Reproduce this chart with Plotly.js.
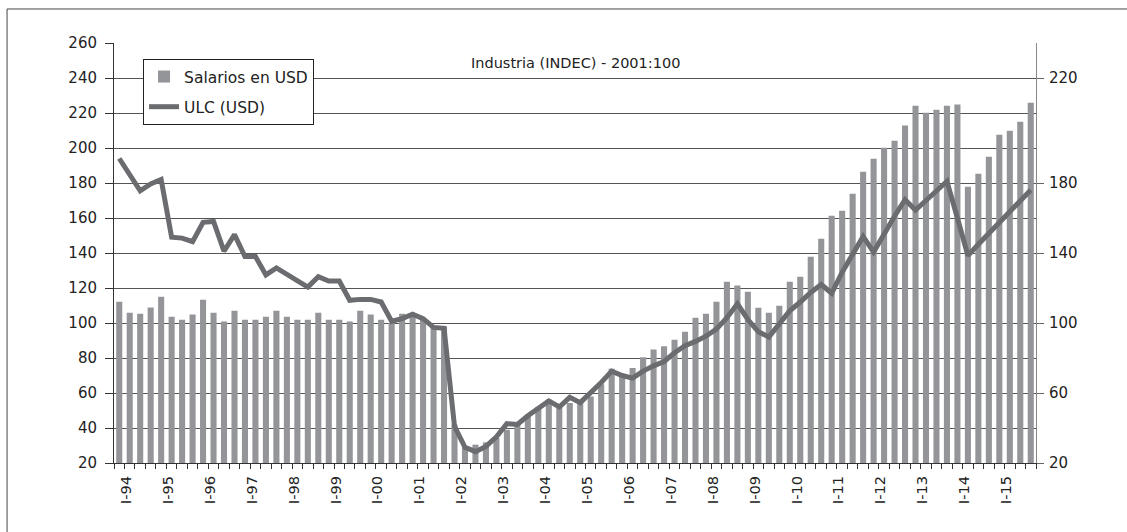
<!DOCTYPE html>
<html>
<head>
<meta charset="utf-8">
<script src="https://cdn.plot.ly/plotly-3.0.1.min.js"></script>
<style>
  html, body { margin: 0; padding: 0; background: #ffffff; }
  #chart { width: 1127px; height: 532px; }
</style>
</head>
<body>
<div id="chart"></div>
<script>
// ---- Data ----
const years = ['94','95','96','97','98','99','00','01','02','03','04','05','06','07','08','09','10','11','12','13','14','15'];
const quarterNames = ['I','II','III','IV'];
const categories = [];
years.forEach(y => quarterNames.forEach(q => categories.push(q + '-' + y)));
const tickLabels = categories.map(c => (c.indexOf('I-') === 0 ? c : ''));

// Salarios en USD (left axis), quarterly I-94 .. IV-15
const salariosUSD = [
  112.2, 105.9, 105.3, 108.8,   // 94
  115.0, 103.6, 101.9, 104.8,   // 95
  113.3, 105.9, 100.8, 107.0,   // 96
  101.9, 101.9, 103.6, 107.0,   // 97
  103.6, 101.9, 101.9, 105.9,   // 98
  101.9, 101.9, 100.8, 107.0,   // 99
  104.8, 101.9, 100.0, 105.3,   // 00
  105.0, 102.0, 98.0, 98.0,     // 01
  42.0, 29.0, 30.5, 31.8,       // 02
  34.3, 39.0, 42.5, 47.6,       // 03
  52.0, 56.2, 52.4, 54.3,       // 04
  56.2, 58.0, 65.0, 73.9,       // 05
  69.5, 74.3, 80.4, 84.8,       // 06
  86.7, 90.5, 95.0, 103.0,      // 07
  105.3, 112.2, 123.6, 121.4,   // 08
  117.9, 108.7, 105.9, 109.9,   // 09
  123.6, 126.5, 137.9, 148.2,   // 10
  161.3, 164.2, 173.9, 186.5,   // 11
  193.9, 200.2, 204.2, 212.8,   // 12
  224.2, 220.2, 221.9, 224.2,   // 13
  224.8, 177.9, 185.3, 195.0,   // 14
  207.6, 209.9, 215.0, 225.9    // 15
];

// ULC (USD) (right axis), quarterly I-94 .. IV-15
const ulcUSD = [
  194.0, 185.0, 175.5, 179.5,   // 94
  182.0, 149.0, 148.5, 146.5,   // 95
  157.5, 158.0, 141.0, 150.5,   // 96
  138.0, 138.0, 127.5, 131.5,   // 97
  128.0, 124.0, 120.5, 126.5,   // 98
  124.0, 124.0, 113.0, 113.5,   // 99
  113.5, 112.0, 101.0, 102.5,   // 00
  105.0, 102.5, 97.5, 97.0,     // 01
  41.0, 29.0, 26.5, 29.5,       // 02
  35.0, 42.5, 42.0, 47.0,       // 03
  51.5, 55.5, 52.0, 57.5,       // 04
  54.5, 60.0, 66.0, 72.5,       // 05
  70.0, 68.5, 72.5, 75.5,       // 06
  78.0, 83.0, 87.0, 89.5,       // 07
  92.5, 96.5, 103.0, 111.0,     // 08
  102.0, 95.0, 92.0, 99.5,      // 09
  107.0, 112.0, 117.5, 122.0,   // 10
  117.0, 129.0, 139.5, 149.5,   // 11
  140.5, 151.0, 161.0, 170.5,   // 12
  164.5, 170.0, 175.5, 181.0,   // 13
  160.0, 138.5, 145.0, 151.0,   // 14
  157.0, 163.5, 169.5, 176.0    // 15
];

const leftTickVals = [20, 40, 60, 80, 100, 120, 140, 160, 180, 200, 220, 240, 260];
const rightTickVals = [20, 60, 100, 140, 180, 240];
const rightTickText = ['20', '60', '100', '140', '180', '220'];

const chartTitle = 'Industria (INDEC) - 2001:100';
const seriesNames = ['Salarios en USD', 'ULC (USD)'];

// ---- Chart ----
const FONT = 'DejaVu Sans, Verdana, sans-serif';

const traces = [
  {
    type: 'bar',
    name: seriesNames[0],
    legendgroup: 'g1',
    x: categories,
    y: salariosUSD,
    marker: { color: '#939598', line: { width: 0 } },
    yaxis: 'y',
    hoverinfo: 'x+y'
  },
  {
    type: 'scatter',
    mode: 'lines',
    name: seriesNames[1],
    legendgroup: 'g2',
    x: categories,
    y: ulcUSD,
    line: { color: '#6b6c70', width: 5 },
    yaxis: 'y2',
    hoverinfo: 'x+y'
  }
];

const layout = {
  width: 1127,
  height: 532,
  margin: { l: 114, r: 91, t: 43, b: 69, pad: 0 },
  paper_bgcolor: '#ffffff',
  plot_bgcolor: '#ffffff',
  font: { family: FONT, size: 14.7, color: '#222222' },
  bargap: 0.42,
  showlegend: true,
  legend: {
    x: 0.0315, y: 0.962, xanchor: 'left', yanchor: 'top',
    bgcolor: '#ffffff', bordercolor: '#222222', borderwidth: 1,
    font: { family: FONT, size: 15.5, color: '#222222' },
    traceorder: 'grouped',
    tracegroupgap: 7,
    itemwidth: 30
  },
  xaxis: {
    type: 'category',
    range: [-0.5, categories.length - 0.5],
    tickmode: 'array',
    tickvals: categories,
    ticktext: tickLabels,
    tickangle: -90,
    tickson: 'boundaries',
    ticks: 'outside',
    ticklen: 5,
    tickwidth: 1,
    tickcolor: '#333333',
    showline: true,
    linecolor: '#333333',
    linewidth: 1,
    showgrid: false,
    zeroline: false,
    ticklabelshift: 7,
    ticklabelstandoff: 6,
    tickfont: { family: FONT, size: 14.7, color: '#222222' },
    fixedrange: true
  },
  yaxis: {
    range: [20, 260],
    tickmode: 'array',
    tickvals: leftTickVals,
    ticks: 'outside',
    ticklen: 8,
    tickwidth: 1,
    tickcolor: '#333333',
    showline: true,
    linecolor: '#333333',
    linewidth: 1,
    showgrid: true,
    gridcolor: '#555555',
    gridwidth: 1,
    zeroline: false,
    ticklabelstandoff: 5,
    tickfont: { family: FONT, size: 15, color: '#222222' },
    fixedrange: true
  },
  yaxis2: {
    overlaying: 'y',
    side: 'right',
    range: [20, 260],
    tickmode: 'array',
    tickvals: rightTickVals,
    ticktext: rightTickText,
    ticks: 'outside',
    ticklen: 7,
    tickwidth: 1,
    tickcolor: '#666666',
    showline: true,
    linecolor: '#888888',
    linewidth: 1,
    showgrid: false,
    zeroline: false,
    ticklabelstandoff: 2,
    tickfont: { family: FONT, size: 15, color: '#222222' },
    fixedrange: true
  },
  annotations: [
    {
      text: chartTitle,
      xref: 'paper', yref: 'paper',
      x: 0.5, y: 0.952,
      xanchor: 'center', yanchor: 'middle',
      showarrow: false,
      font: { family: FONT, size: 14.5, color: '#222222' }
    }
  ],
  shapes: [
    {
      type: 'rect',
      xref: 'paper', yref: 'paper',
      x0: -0.116, x1: 1.25, y0: -0.4, y1: 1.081,
      line: { color: '#444444', width: 1 },
      fillcolor: 'rgba(0,0,0,0)',
      layer: 'below'
    }
  ]
};

Plotly.newPlot('chart', traces, layout, { displayModeBar: false, staticPlot: true });
</script>
</body>
</html>
